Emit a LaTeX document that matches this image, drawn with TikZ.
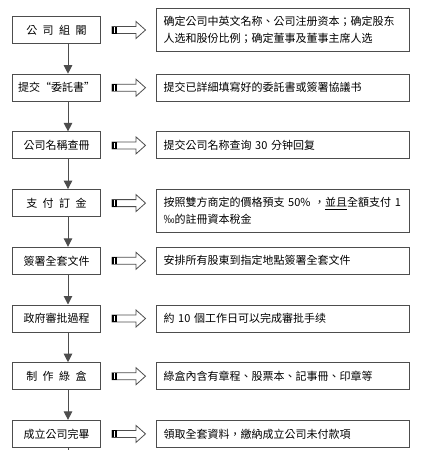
\documentclass[tikz,border=0pt]{standalone}
\usepackage{fontspec}
\setmainfont{Noto Sans CJK TC}
\usepackage{tikz}
\usetikzlibrary{positioning, arrows.meta, calc}
\definecolor{edge}{HTML}{4D4D4D}

\begin{document}
\begin{tikzpicture}[
    x=1pt, y=1pt,
    node distance=29.7pt,
    stage/.style={rectangle, draw=edge, fill=white, line width=1pt, minimum width=88pt, minimum height=27pt, inner sep=0pt, align=center, font=\fontsize{11pt}{17pt}\selectfont},
    note/.style={rectangle, draw=edge, fill=white, line width=1pt, minimum width=253pt, minimum height=27pt, inner xsep=7pt, inner ysep=8pt, text width=239pt, align=left, font=\fontsize{11pt}{17pt}\selectfont},
    flow/.style={draw=edge, line width=1pt, -{Triangle[width=8.5pt, length=8.5pt]}},
    hollow/.style={draw=edge, fill=white, line width=0.8pt},
]
\fill[white] (0,0) rectangle (422,-450);
\useasboundingbox (0,0) rectangle (422,-450);

% Steps
\node[stage] (s1) at (56.5,-30) {公\enspace 司\enspace 組\enspace 閣};
\node[stage, below=of s1] (s2) {提交“委託書”};
\node[stage, below=of s2] (s3) {公司名稱查冊};
\node[stage, below=of s3] (s4) {支\enspace 付\enspace 訂\enspace 金};
\node[stage, below=of s4] (s5) {簽署全套文件};
\node[stage, below=of s5] (s6) {政府審批過程};
\node[stage, below=of s6] (s7) {制\enspace 作\enspace 綠\enspace 盒};
\node[stage, below=of s7] (s8) {成立公司完畢};

% Notes
\node[note, right=55pt of s1] (d1) {确定公司中英文名称、公司注册资本；确定股东\\人选和股份比例；确定董事及董事主席人选};
\node[note, right=55pt of s2] (d2) {提交已詳細填寫好的委託書或簽署協議书};
\node[note, right=55pt of s3] (d3) {提交公司名称查询 30 分钟回复};
\node[note, right=55pt of s4.north east, anchor=north west] (d4) {按照雙方商定的價格預支 50\% ，\underline{並且}全額支付 1\\‰的註冊資本稅金};
\node[note, right=55pt of s5] (d5) {安排所有股東到指定地點簽署全套文件};
\node[note, right=55pt of s6] (d6) {約 10 個工作日可以完成審批手续};
\node[note, right=55pt of s7] (d7) {綠盒內含有章程、股票本、記事冊、印章等};
\node[note, right=55pt of s8] (d8) {領取全套資料，繳納成立公司未付款項};

% Flow line
\coordinate (col) at (68,0);
\coordinate (tail) at (68,-450);
\foreach \i [evaluate=\i as \j using int(\i+1)] in {1,...,7}
    \draw[flow] (s\i.south -| col) -- (s\j.north -| col);
\draw[draw=edge, line width=1pt] (s8.south -| col) -- (tail);

% Hollow arrows
\foreach \i in {1,...,8} {
    \draw[hollow] ($(s\i.east)+(11,3.5)$) -- ++(24,0) -- ++(0,5) -- ++(9.5,-8.5) -- ++(-9.5,-8.5) -- ++(0,5) -- ++(-24,0) -- cycle;
    \fill[black] ($(s\i.east)+(11,-3.5)$) rectangle ++(5,7);
    \draw[white, line width=0.7pt] ($(s\i.east)+(13.6,-2.8)$) -- ++(0,5.6);
}

\end{tikzpicture}
\end{document}
